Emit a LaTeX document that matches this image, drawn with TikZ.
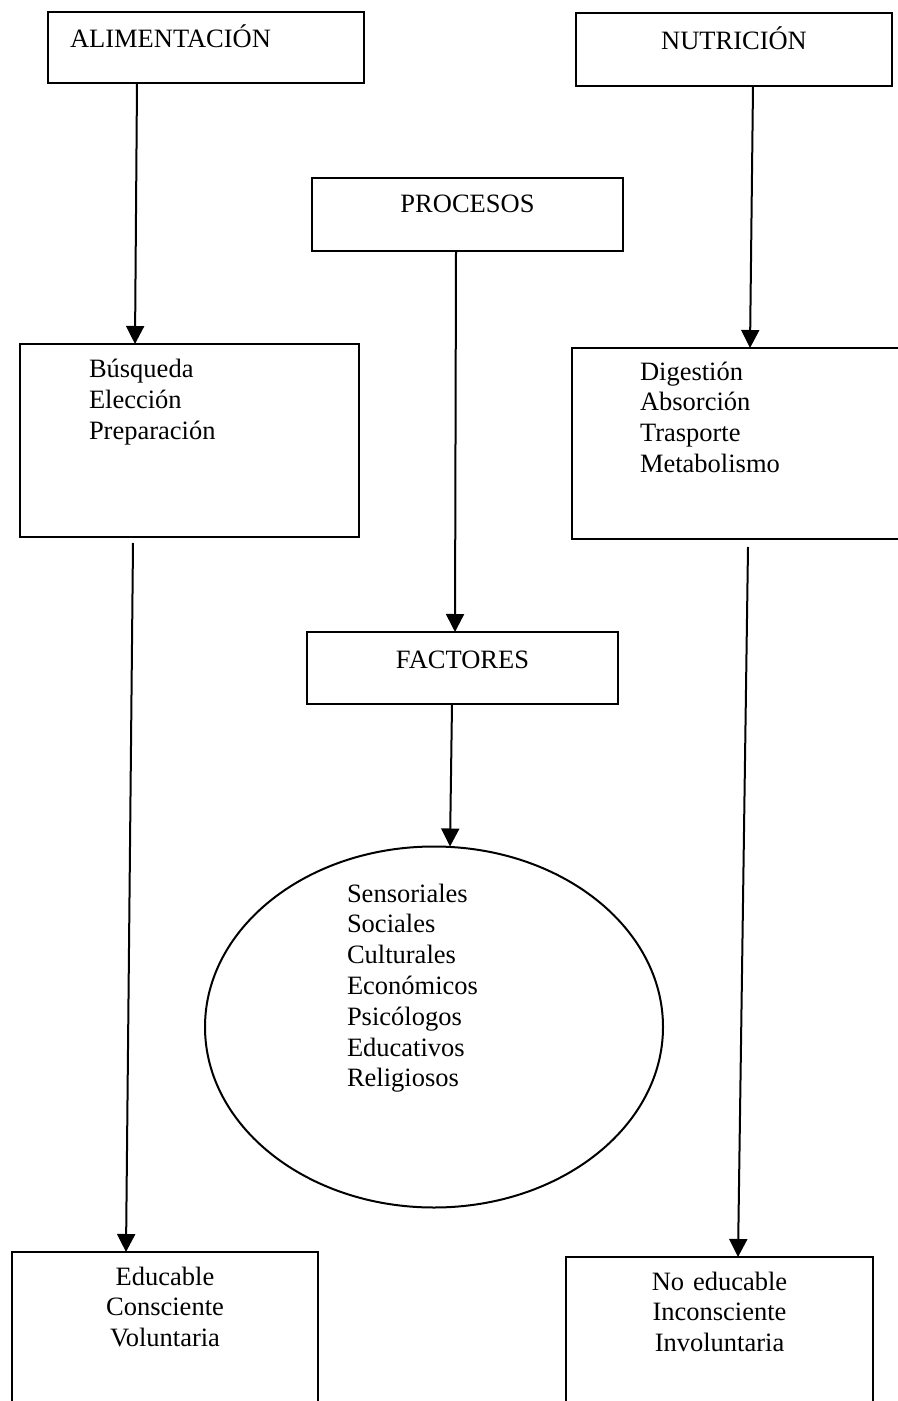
\documentclass[tikz,border=0pt]{standalone}
\usepackage{fontspec}
\setmainfont{Liberation Serif}
\usetikzlibrary{arrows.meta,shapes.geometric}

\begin{document}
\begin{tikzpicture}[
  x=0.5pt, y=-0.5pt,
  every node/.style={font=\fontsize{13.25}{15.4}\selectfont},
  box/.style={draw, line width=1pt, outer sep=0pt, inner ysep=0pt, anchor=base west},
  title/.style={box, inner xsep=0pt, align=center, text width=155.5pt, text height=18pt, text depth=18pt},
  list/.style={box, align=left},
  arrow/.style={-{Triangle[width=9pt,length=9pt]}, line width=1pt}
]
\useasboundingbox (0,0) rectangle (898,1401);
\clip (0,0) rectangle (898,1401);
\node[title, align=left, inner xsep=11pt, text width=136pt, text depth=17.5pt] (alim) at (48,48) {ALIMENTACIÓN};
\node[title, text width=158pt, text height=18.5pt] (nutr) at (576,50) {NUTRICIÓN};
\node[title, text height=17.5pt, text depth=19pt] (proc) at (312,213) {PROCESOS};
\node[list, inner xsep=34.5pt, text width=100.5pt, text height=17pt, text depth=79.5pt] (busq) at (20,378) {Búsqueda\\Elección\\Preparación};
\node[list, inner xsep=34pt, text width=126pt, text height=16pt, text depth=79.5pt] (dig) at (572,380) {Digestión\\Absorción\\Trasporte\\Metabolismo};
\node[title] (fact) at (307,668) {FACTORES};
\node[draw, ellipse, line width=1pt, outer sep=0pt, inner sep=0pt, minimum width=229pt, minimum height=180.5pt,
  align=left, text width=87pt, text height=0pt, text depth=125pt] (tipos) at (434,1027)
  {Sensoriales\\Sociales\\Culturales\\Económicos\\Psicólogos\\Educativos\\Religiosos};
\node[box, align=center, inner xsep=0pt, text width=153pt, text height=16.5pt, text depth=77.5pt] (educ) at (12,1285) {Educable\\Consciente\\Voluntaria};
\node[box, align=center, inner xsep=0pt, text width=153.5pt, text height=16.5pt, text depth=77.5pt] (noed) at (566,1290) {No educable\\Inconsciente\\Involuntaria};
\draw[arrow] ([xshift=-34.5pt]alim.south) -- ([xshift=-27.25pt]busq.north);
\draw[arrow] ([xshift=9.5pt]nutr.south) -- ([xshift=-8pt]dig.north);
\draw[arrow] ([xshift=-5.75pt]proc.south) -- ([xshift=-3.75pt]fact.north);
\draw[arrow] ([xshift=-5.25pt]fact.south) -- ([xshift=8pt]tipos.north);
\draw[arrow] ([xshift=-28.25pt,yshift=-3pt]busq.south) -- ([xshift=-19.5pt]educ.north);
\draw[arrow] ([xshift=-9pt,yshift=-4pt]dig.south) -- ([xshift=9.25pt]noed.north);
\end{tikzpicture}
\end{document}
